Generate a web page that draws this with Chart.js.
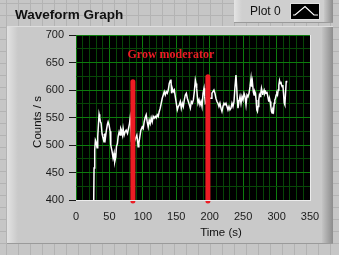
<!DOCTYPE html>
<html><head><meta charset="utf-8">
<script src="https://cdn.jsdelivr.net/npm/chart.js@4.4.1/dist/chart.umd.min.js"></script>
<style>html,body{margin:0;padding:0;background:#c6c6c6;overflow:hidden}#wrap{width:339px;height:255px;position:relative}</style>
</head><body><div id="wrap"><canvas id="c" width="339" height="255"></canvas></div>
<script>
const chartTitle = 'Waveform Graph';
const seriesName = 'Plot 0';
const xTitle = 'Time (s)';
const yTitle = 'Counts / s';
const noteText = 'Grow moderator';
const noteX = 77, noteY = 659;
const xMin = 0, xMax = 350, xMajor = 50, xMinor = 10;
const yMin = 400, yMax = 700, yMajor = 50, yMinor = 25;
const markerTimes = [85.1, 197.3];
const markerTops = [615, 624];
const markerBase = 398;
const times = [26.5,27,28,29,30,31.5,32.5,34.5,35.5,36.5,37.5,39,40,41,42,43,44,45.5,47,48,49.5,51,52,53,54,55.5,57,58,59.5,60.5,62,63,64.5,66,67,68,69.5,70.5,72,73.5,75,77,78.5,80,81,82,83,85,87,89,91,92,93,94,95.5,97,99,100.5,102,103.5,105,106.5,108,109.5,111,112.5,114,115.5,117,118.5,120,121.5,123,124.5,126,127.5,129,130.5,132,133.5,135,136.5,138,139.5,141,142,143,144,145.5,147,148.5,150,151.5,153,154.5,156,157.5,159,160.5,162,163.5,165,166.5,168,169.5,171,172.5,174,175.5,177,178.5,179.5,180.5,181.5,182.5,184,185.5,187,188.5,190,191.5,192.5,193.5,196,199,202.3,203.3,204.8,206.3,207.8,209.3,210.8,212.3,213.8,215.3,216.8,218.3,219.8,221.3,222.8,224.3,225.8,227.3,228.8,230.3,231.8,233.3,234.8,236.3,237.8,239.3,240.3,241.3,242.3,243.8,245.3,246.8,248.3,249.8,251.3,252.8,254.3,255.8,257.3,258.8,260.3,261.8,262.8,263.8,265.3,266.4,267.4,268.4,269.4,270.4,271.4,272.4,273.4,274.4,275.4,276.4,277.4,278.4,279.4,280.4,281.4,282.4,283.4,284.4,285.4,286.4,287.4,288.4,289.4,290.4,291.4,292.4,293.4,294.4,295.4,296.4,297.4,298.4,299.4,300.4,301.4,302.4,303.4,304.4,305.4,306.4,307.4,308.4,309.4,310.4,311.4,312.4,313.4,314.4,315];
const counts = [400,458,491,509,506,495,515,556,550,542,540,520,515,513,506,521,513,527,538,542,536,525,500,494,488,476,485,470,478,497,503,515,524,518,530,527,518,530,518,524,527,521,530,539,549,536,506,498,505,512,518,509,497,503,515,527,533,530,542,550,555,542,533,545,539,549,542,552,549,552,549,555,552,561,567,576,585,591,597,591,597,594,600,612,617,619,594,603,597,600,588,576,564,570,573,579,567,576,570,582,591,594,585,579,573,567,579,576,582,597,618,612,603,588,576,582,573,579,570,594,603,588,576,580,585,585,594,597,600,594,585,579,576,570,576,567,561,570,576,573,576,570,564,570,564,567,576,570,579,606,627,606,582,567,579,588,576,588,582,594,588,573,591,588,594,606,621,606,615,596,591,597,594,582,564,561,570,582,591,588,594,603,597,591,597,600,594,597,594,597,591,585,579,585,579,570,561,558,564,561,576,582,585,591,594,591,600,609,617,612,615,609,606,609,594,576,573,594,615,617];

const MAJOR = '#0d7c0d', MINOR = '#074607';
const FONT = "'Liberation Sans', Arial, sans-serif";

const deco = {
  id: 'deco',
  beforeDraw(chart) {
    const ctx = chart.ctx, W = chart.width, H = chart.height, a = chart.chartArea;
    ctx.save();
    ctx.fillStyle = '#c6c6c6'; ctx.fillRect(0, 0, W, H);
    ctx.fillStyle = '#b3b3b3';
    for (let x = 6; x < W; x += 12) ctx.fillRect(x, 0, 1, H);
    for (let y = 3; y < H; y += 12) ctx.fillRect(0, y, W, 1);
    // graph panel
    ctx.fillStyle = '#c9c9c9'; ctx.fillRect(7, 26, 326, 218);
    let g = ctx.createLinearGradient(7, 0, 18, 0);
    g.addColorStop(0, '#e2e2e2'); g.addColorStop(1, '#c9c9c9');
    ctx.fillStyle = g; ctx.fillRect(7, 26, 11, 218);
    g = ctx.createLinearGradient(322, 0, 333, 0);
    g.addColorStop(0, '#c4c4c4'); g.addColorStop(1, '#8c8c8c');
    ctx.fillStyle = g; ctx.fillRect(322, 26, 11, 218);
    ctx.fillStyle = '#dedede'; ctx.fillRect(7, 26, 326, 1);
    ctx.fillStyle = '#9a9a9a'; ctx.fillRect(7, 243, 326, 1);
    // legend box
    ctx.fillStyle = '#cfcfcf'; ctx.fillRect(234, 0, 99, 23);
    g = ctx.createLinearGradient(234, 0, 242, 0);
    g.addColorStop(0, '#e4e4e4'); g.addColorStop(1, '#cfcfcf');
    ctx.fillStyle = g; ctx.fillRect(234, 0, 8, 23);
    g = ctx.createLinearGradient(324, 0, 333, 0);
    g.addColorStop(0, '#c8c8c8'); g.addColorStop(1, '#8c8c8c');
    ctx.fillStyle = g; ctx.fillRect(324, 0, 9, 23);
    ctx.fillStyle = '#9a9a9a'; ctx.fillRect(234, 22, 99, 1);
    ctx.fillStyle = '#111'; ctx.font = '12px ' + FONT; ctx.textBaseline = 'middle'; ctx.textAlign = 'left';
    ctx.fillText(seriesName, 250, 12);
    ctx.fillStyle = '#e0e0e0'; ctx.fillRect(290, 3, 30, 17);
    ctx.fillStyle = '#000'; ctx.fillRect(291, 4, 28, 15);
    ctx.strokeStyle = '#fff'; ctx.lineWidth = 1.2; ctx.beginPath();
    ctx.moveTo(293, 15); ctx.lineTo(295, 15); ctx.lineTo(305, 6.5); ctx.lineTo(314, 15); ctx.lineTo(318, 15); ctx.stroke();
    // title
    ctx.fillStyle = '#111'; ctx.font = 'bold 13.5px ' + FONT; ctx.textBaseline = 'alphabetic';
    ctx.fillText(chartTitle, 15, 19);
    // plot area
    ctx.fillStyle = '#000'; ctx.fillRect(a.left, a.top, a.right - a.left, a.bottom - a.top);
    ctx.restore();
  },
  afterDraw(chart) {
    const ctx = chart.ctx, a = chart.chartArea, xs = chart.scales.x, ys = chart.scales.y;
    ctx.save();
    ctx.fillStyle = '#ececec';
    ctx.fillRect(a.right, a.top, 1, a.bottom - a.top + 1);
    ctx.fillRect(a.left, a.bottom, a.right - a.left + 1, 1);
    ctx.fillStyle = '#111'; ctx.font = '11.5px ' + FONT; ctx.textAlign = 'center'; ctx.textBaseline = 'middle';
    ctx.fillText(xTitle, 221, 233);
    ctx.translate(38, 122); ctx.rotate(-Math.PI / 2);
    ctx.fillText(yTitle, 0, 0);
    ctx.setTransform(1, 0, 0, 1, 0, 0);
    ctx.fillStyle = '#ec1c24'; ctx.font = "bold 12px 'Liberation Serif', 'Times New Roman', serif";
    ctx.textAlign = 'left'; ctx.textBaseline = 'alphabetic';
    ctx.fillText(noteText, xs.getPixelForValue(noteX), ys.getPixelForValue(noteY));
    ctx.restore();
  }
};

const datasets = [{
  label: seriesName,
  data: times.map((t, i) => ({ x: t, y: counts[i] })),
  borderColor: '#ffffff', borderWidth: 1.5, pointRadius: 0, tension: 0, order: 2
}];
markerTimes.forEach((mt, i) => datasets.push({
  label: 'marker' + i,
  data: [{ x: mt, y: markerBase }, { x: mt, y: markerTops[i] }],
  borderColor: '#ec1c24', borderWidth: 5, borderCapStyle: 'round', pointRadius: 0, clip: false, order: 0
}));

function gridOpts(major, dashed) {
  const o = {
    color: c => (c.tick && c.tick.value % major === 0) ? MAJOR : MINOR,
    lineWidth: 1,
    tickColor: c => (c.tick && c.tick.value % major === 0) ? '#1a1a1a' : 'rgba(0,0,0,0)',
    tickLength: 7,
    drawTicks: true
  };
  if (dashed) { o.tickBorderDash = [4, 20]; o.tickBorderDashOffset = 11; }
  return o;
}

new Chart(document.getElementById('c'), {
  type: 'line',
  data: { datasets },
  plugins: [deco],
  options: {
    responsive: false, animation: false, devicePixelRatio: 1,
    layout: { padding: { top: 35, right: 29, left: 0, bottom: 0 } },
    plugins: { legend: { display: false }, tooltip: { enabled: false }, title: { display: false } },
    scales: {
      x: {
        type: 'linear', min: xMin, max: xMax,
        ticks: { stepSize: xMinor, autoSkip: false, maxRotation: 0, minRotation: 0, padding: 3,
          color: '#1a1a1a', font: { family: FONT, size: 11 },
          callback: v => (v % xMajor === 0 ? String(v) : '') },
        grid: gridOpts(xMajor, true),
        border: { display: false },
        afterFit: s => { s.height = 55; }
      },
      y: {
        type: 'linear', min: yMin, max: yMax,
        ticks: { stepSize: yMinor, autoSkip: false, padding: 5,
          color: '#1a1a1a', font: { family: FONT, size: 11 },
          callback: v => (v % yMajor === 0 ? String(v) : '') },
        grid: gridOpts(yMajor, false),
        border: { display: false },
        afterFit: s => { s.width = 76; }
      }
    }
  }
});
</script></body></html>
